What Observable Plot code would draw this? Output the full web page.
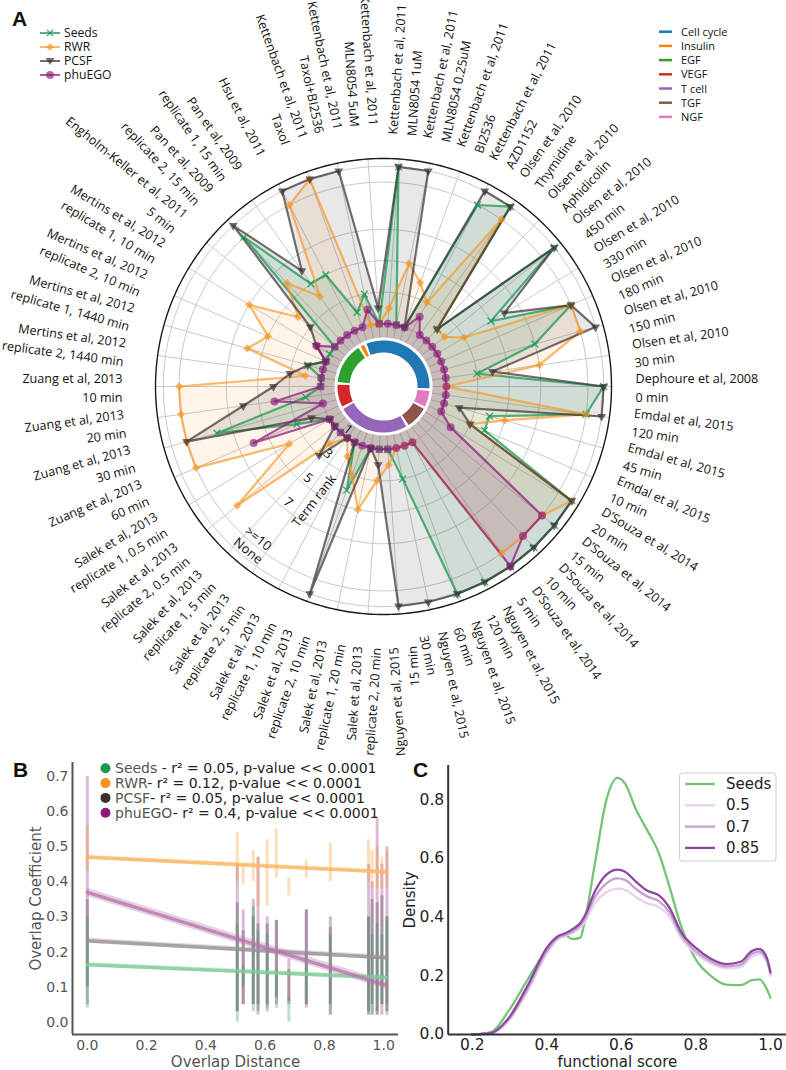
<!DOCTYPE html>
<html><head><meta charset="utf-8">
<script src="https://cdn.jsdelivr.net/npm/d3@7"></script>
<script src="https://cdn.jsdelivr.net/npm/@observablehq/plot@0.6"></script>
<style>
body{margin:0;background:#fff;}
#fig{position:relative;width:786px;height:1070px;overflow:hidden;background:#fff;}
</style></head><body><div id="fig"></div>
<script>
// ---------------- DATA ----------------
const studies = [
"Dephoure et al, 2008\n0 min","Emdal et al, 2015\n120 min","Emdal et al, 2015\n45 min","Emdal et al, 2015\n10 min",
"D’Souza et al, 2014\n20 min","D’Souza et al, 2014\n15 min","D’Souza et al, 2014\n10 min","D’Souza et al, 2014\n5 min",
"Nguyen et al, 2015\n120 min","Nguyen et al, 2015\n60 min","Nguyen et al, 2015\n30 min","Nguyen et al, 2015\n15 min",
"Salek et al, 2013\nreplicate 2, 20 min","Salek et al, 2013\nreplicate 1, 20 min","Salek et al, 2013\nreplicate 2, 10 min","Salek et al, 2013\nreplicate 1, 10 min",
"Salek et al, 2013\nreplicate 2, 5 min","Salek et al, 2013\nreplicate 1, 5 min","Salek et al, 2013\nreplicate 2, 0.5 min","Salek et al, 2013\nreplicate 1, 0.5 min",
"Zuang et al, 2013\n60 min","Zuang et al, 2013\n30 min","Zuang et al, 2013\n20 min","Zuang et al, 2013\n10 min",
"Mertins et al, 2012\nreplicate 2, 1440 min","Mertins et al, 2012\nreplicate 1, 1440 min","Mertins et al, 2012\nreplicate 2, 10 min","Mertins et al, 2012\nreplicate 1, 10 min",
"Engholm-Keller et al, 2011\n5 min","Pan et al, 2009\nreplicate 2, 15 min","Pan et al, 2009\nreplicate 1, 15 min","Hsu et al, 2011",
"Kettenbach et al, 2011\nTaxol","Kettenbach et al, 2011\nTaxol+BI2536","Kettenbach et al, 2011\nMLN8054 5uM","Kettenbach et al, 2011\nMLN8054 1uM",
"Kettenbach et al, 2011\nMLN8054 0.25uM","Kettenbach et al, 2011\nBI2536","Kettenbach et al, 2011\nAZD1152",
"Olsen et al, 2010\nThymidine","Olsen et al, 2010\nAphidicolin","Olsen et al, 2010\n450 min","Olsen et al, 2010\n330 min",
"Olsen et al, 2010\n180 min","Olsen et al, 2010\n150 min","Olsen et al, 2010\n30 min"
];
const studyCategory = [
"Cell cycle","NGF","NGF","NGF","TGF","TGF","TGF","TGF",
"T cell","T cell","T cell","T cell","T cell","T cell","T cell","T cell","T cell","T cell","T cell","T cell",
"VEGF","VEGF","VEGF","VEGF","EGF","EGF","EGF","EGF","EGF","EGF","EGF","Insulin",
"Cell cycle","Cell cycle","Cell cycle","Cell cycle","Cell cycle","Cell cycle","Cell cycle",
"Cell cycle","Cell cycle","Cell cycle","Cell cycle","Cell cycle","Cell cycle","Cell cycle"
];
// term rank per study (11 = None, 10 = >=10)
const seedsRank  = [11,10,4,4,11,11,11,11,11,11,3,1,1,1,4,1,1,1,1,1,3,8,2,1,1,2,1,1,1,10,5,5,2,3,1,11,1,1,10,11,2,11,5,10,7,3];
const rwrRank    = [1,10,5,3,11,10,10,10,1,1,1,2,3,5,3,2,1,2,9,4,10,10,10,10,2,6,5,7,4,6,4,10,11,1,1,2,5,4,3,10,2,2,3,10,10,7];
const pcsfRank   = [11,11,2,3,11,11,11,11,11,11,11,11,2,1,11,1,1,3,1,1,2,10,6,4,3,2,1,2,3,11,6,11,11,11,2,11,11,1,11,11,2,11,6,10,11,4];
const phuegoRank = [1,1,1,1,2,10,10,11,1,1,1,1,1,1,1,1,1,1,1,1,6,1,4,1,1,1,1,2,1,1,1,1,1,2,1,1,1,1,2,1,1,1,1,1,1,1];

const methods = ["Seeds","RWR","PCSF","phuEGO"];
const methodColors = ["#1a9850","#f7931e","#3b2f34","#8b1a7a"];
const rankTicks = [1,3,5,7,10,11];
const rankTickLabels = ["1","3","5","7",">=10","None"];
const categories = ["Cell cycle","Insulin","EGF","VEGF","T cell","TGF","NGF"];
const categoryColors = ["#1f77b4","#ff7f0e","#2ca02c","#d62728","#9467bd","#8c564b","#e377c2"];

// Panel B: overlap columns (x), per-method y extents
const colX = [0,0.506,0.526,0.56,0.576,0.607,0.638,0.68,0.739,0.82,0.949,0.961,0.978,0.994,1.011];
const seedsLo  = [0.04,0.00,0.10,0.03,0.03,0.04,0.04,0.00,0.05,0.02,0.02,0.02,0.02,0.05,0.05];
const seedsHi  = [0.30,0.28,0.16,0.33,0.26,0.25,0.15,0.07,0.20,0.25,0.30,0.25,0.28,0.25,0.30];
const rwrLo    = [0.43,0.40,0.39,0.40,0.33,0.33,0.41,0.36,0.41,0.40,0.40,0.38,0.38,0.38,0.38];
const rwrHi    = [0.56,0.54,0.45,0.49,0.47,0.52,0.55,0.41,0.46,0.51,0.52,0.49,0.50,0.47,0.49];
const pcsfLo   = [0.10,0.03,0.05,0.05,0.05,0.05,0.07,0.05,0.05,0.05,0.03,0.05,0.03,0.05,0.03];
const pcsfHi   = [0.35,0.34,0.26,0.30,0.28,0.28,0.29,0.15,0.32,0.30,0.30,0.35,0.34,0.36,0.30];
const phuLo    = [0.05,0.03,0.05,0.05,0.02,0.03,0.05,0.06,0.04,0.02,0.02,0.02,0.02,0.02,0.02];
const phuHi    = [0.70,0.45,0.32,0.35,0.47,0.30,0.29,0.18,0.32,0.27,0.45,0.40,0.58,0.45,0.50];
const regAt0 = [0.164,0.47,0.232,0.37];
const regAt1 = [0.127,0.428,0.184,0.105];
const ciHalf = [0.006,0.006,0.007,0.012];
const r2Values = ["0.05","0.12","0.05","0.4"];
const bTicksX = [0,0.2,0.4,0.6,0.8,1.0];
const bTicksY = [0,0.1,0.2,0.3,0.4,0.5,0.6,0.7];

// Panel C: density of functional score
const fsX = [0.2,0.25,0.3,0.35,0.4,0.43,0.45,0.47,0.49,0.5,0.53,0.56,0.59,0.61,0.64,0.67,0.7,0.73,0.76,0.8,0.84,0.88,0.92,0.95,0.97,0.99,1.0];
const densSeeds = [0,0.008,0.085,0.19,0.29,0.333,0.337,0.325,0.33,0.375,0.59,0.8,0.875,0.855,0.765,0.695,0.62,0.5,0.37,0.255,0.2,0.17,0.168,0.185,0.188,0.155,0.125];
const dens050 = [0,0.003,0.05,0.15,0.275,0.325,0.336,0.347,0.365,0.38,0.45,0.485,0.497,0.493,0.468,0.447,0.435,0.4,0.33,0.275,0.243,0.226,0.23,0.265,0.275,0.248,0.2];
const dens070 = [0,0.004,0.055,0.16,0.285,0.33,0.34,0.352,0.372,0.39,0.47,0.515,0.532,0.527,0.495,0.47,0.455,0.415,0.34,0.283,0.25,0.232,0.238,0.275,0.283,0.255,0.207];
const dens085 = [0,0.005,0.06,0.17,0.295,0.335,0.345,0.36,0.38,0.4,0.49,0.545,0.562,0.555,0.52,0.49,0.475,0.43,0.35,0.295,0.258,0.24,0.248,0.285,0.292,0.262,0.213];
const densNames = ["Seeds","0.5","0.7","0.85"];
const densColors = ["#74c476","#e6d3e9","#c3a2d0","#8e47a0"];
const cTicksX = [0.2,0.4,0.6,0.8,1.0];
const cTicksY = [0,0.2,0.4,0.6,0.8];

// ---------------- PANEL A: radar ----------------
const fig = document.getElementById("fig");
const N = studies.length;
const R0 = 3;              // radial axis starts at rank -3
const RMAX = 11.5;
const cx = 383, cy = 386, HA = 760;
const K = 228 / (RMAX + R0); // px per rank unit
const ang = i => i * 2 * Math.PI / N;
const px = (i, r) => (r + R0) * Math.cos(ang(i));
const py = (i, r) => -(r + R0) * Math.sin(ang(i));

const rankSeries = [seedsRank, rwrRank, pcsfRank, phuegoRank];
const seriesPts = rankSeries.map(arr => {
  const pts = arr.map((r, i) => ({i, r, x: px(i, r), y: py(i, r)}));
  return pts.concat([pts[0]]);
});

const ringPts = [];
rankTicks.forEach(t => d3.range(0, 361, 2).forEach(d => {
  const a = d * Math.PI / 180;
  ringPts.push({t, x: (t + R0) * Math.cos(a), y: -(t + R0) * Math.sin(a)});
}));
const outerPts = d3.range(0, 361, 1).map(d => {
  const a = d * Math.PI / 180;
  return {x: (RMAX + R0) * Math.cos(a), y: -(RMAX + R0) * Math.sin(a)};
});

// donut runs (circular contiguous category runs)
const donutR = 40 / K;
const runs = [];
let start = studyCategory.findIndex((c, i) => c !== studyCategory[(i - 1 + N) % N]);
for (let k = 0; k < N; ) {
  const s = (start + k) % N; const c = studyCategory[s]; let len = 0;
  while (len < N - k && studyCategory[(s + len) % N] === c) len++;
  runs.push({c, s, len}); k += len;
}
const donutPts = [];
runs.forEach((run, j) => {
  const gap = 1.6 * Math.PI / 180;
  const a0 = (run.s - 0.5) * 2 * Math.PI / N + gap;
  const a1 = (run.s + run.len - 0.5) * 2 * Math.PI / N - gap;
  d3.range(0, 41).forEach(q => {
    const a = a0 + (a1 - a0) * q / 40;
    donutPts.push({run: j, c: run.c, x: donutR * Math.cos(a), y: -donutR * Math.sin(a)});
  });
});

const labelRows = studies.map((t, i) => {
  const deg = i * 360 / N;
  const left = deg > 80 && deg < 270;
  const rpx = left ? 261 : 252;
  const rot = left ? deg - 180 : (deg > 270 ? deg - 360 : deg);
  const a = deg * Math.PI / 180;
  return {t, left, rot, x: rpx / K * Math.cos(a), y: -rpx / K * Math.sin(a)};
});

const tickAng = 129.5 * Math.PI / 180;
const tickRows = rankTicks.map((t, k) => ({
  t: rankTickLabels[k],
  x: (t + R0 - 0.45) * Math.cos(tickAng),
  y: -(t + R0 - 0.45) * Math.sin(tickAng)
}));
const termAng = 121.2 * Math.PI / 180;
const termRow = [{t: "Term rank", x: 8.5 * Math.cos(termAng), y: -8.5 * Math.sin(termAng)}];

const downTriangle = {draw(ctx, size) {
  const s = Math.sqrt(size * 4 / Math.sqrt(3)), h = s * Math.sqrt(3) / 2;
  ctx.moveTo(0, h * 2 / 3); ctx.lineTo(-s / 2, -h / 3); ctx.lineTo(s / 2, -h / 3); ctx.closePath();
}};
const squareDiamond = {draw(ctx, size) {
  const d = Math.sqrt(size / 2);
  ctx.moveTo(0, -d); ctx.lineTo(d, 0); ctx.lineTo(0, d); ctx.lineTo(-d, 0); ctx.closePath();
}};

const fA = "'Open Sans', sans-serif";
const lineOpacity = [0.75, 0.65, 0.7, 0.72];
const fillOpacity = [0.12, 0.1, 0.11, 0.12];
const markerMarks = [
  Plot.dot(seriesPts[0].slice(0, N), {x: "x", y: "y", symbol: "times", r: 3.2, stroke: methodColors[0], strokeOpacity: 0.8, strokeWidth: 1.4, fill: "none"}),
  Plot.dot(seriesPts[1].slice(0, N), {x: "x", y: "y", symbol: squareDiamond, r: 3.3, fill: methodColors[1], fillOpacity: 0.65, stroke: "none"}),
  Plot.dot(seriesPts[2].slice(0, N), {x: "x", y: "y", symbol: downTriangle, r: 3.3, fill: methodColors[2], fillOpacity: 0.7, stroke: "none"}),
  Plot.dot(seriesPts[3].slice(0, N), {x: "x", y: "y", r: 4, fill: methodColors[3], fillOpacity: 0.65, stroke: "none"})
];

const radarMarks = [
  Plot.link(d3.range(N), {x1: () => 0, y1: () => 0, x2: i => px(i, RMAX), y2: i => py(i, RMAX), stroke: "#c9c9c9", strokeWidth: 1}),
  Plot.line(ringPts, {x: "x", y: "y", z: "t", stroke: "#c9c9c9", strokeWidth: 1}),
  Plot.line(outerPts, {x: "x", y: "y", stroke: "#1a1a1a", strokeWidth: 1.4}),
  ...seriesPts.map((pts, k) => Plot.line(pts, {x: "x", y: "y", fill: methodColors[k], fillOpacity: fillOpacity[k], stroke: "none"})),
  ...seriesPts.map((pts, k) => Plot.line(pts, {x: "x", y: "y", stroke: methodColors[k], strokeOpacity: lineOpacity[k], strokeWidth: 2.2})),
  ...markerMarks,
  Plot.dot([{x: 0, y: 0}], {x: "x", y: "y", r: 49, fill: "white", stroke: "none"}),
  ...categories.map((c, k) => Plot.line(donutPts.filter(d => d.c === c), {x: "x", y: "y", z: "run", stroke: categoryColors[k], strokeWidth: 12, strokeLinecap: "butt"})),
  Plot.text(tickRows, {x: "x", y: "y", text: "t", rotate: 39, fontSize: 13, fontFamily: fA, fill: "#111"}),
  Plot.text(termRow, {x: "x", y: "y", text: "t", rotate: -52, fontSize: 13, fontFamily: fA, fill: "#111"}),
  Plot.text(labelRows.filter(d => !d.left), {x: "x", y: "y", text: "t", rotate: "rot", textAnchor: "start", lineAnchor: "middle", lineHeight: 1.5, fontSize: 12.6, fontFamily: fA, fill: "#111"}),
  Plot.text(labelRows.filter(d => d.left), {x: "x", y: "y", text: "t", rotate: "rot", textAnchor: "end", lineAnchor: "middle", lineHeight: 1.5, fontSize: 12.6, fontFamily: fA, fill: "#111"})
];

const radar = Plot.plot({
  width: 786, height: HA, margin: 0,
  x: {domain: [-cx / K, (786 - cx) / K], axis: null},
  y: {domain: [-(HA - cy) / K, cy / K], axis: null},
  style: {background: "transparent", overflow: "visible", color: "#111"},
  marks: radarMarks
});
radar.style.left = "0px"; radar.style.top = "0px"; radar.style.position = "absolute";
fig.appendChild(radar);

// ---------------- PANEL B ----------------
const fB = "'DejaVu Sans', sans-serif";
const fmt1 = d3.format(".1f");
const colRows = (lo, hi) => colX.map((x, j) => ({x, lo: lo[j], hi: hi[j]}));
const scatterSets = [[phuLo, phuHi, 3], [pcsfLo, pcsfHi, 2], [seedsLo, seedsHi, 0], [rwrLo, rwrHi, 1]];
const regRows = methods.map((m, k) => [{x: 0, y: regAt0[k], k}, {x: 1.01, y: regAt1[k], k}]);
const regLineColors = ["#7fcc98", "#f9b865", "#9c9195", "#b777ab"];
const bX0 = -0.05, bY0 = -0.035;
const panelB = Plot.plot({
  width: 400, height: 330, marginLeft: 72, marginRight: 2, marginTop: 22, marginBottom: 36,
  x: {domain: [bX0, 1.05], axis: null}, y: {domain: [bY0, 0.74], axis: null},
  style: {background: "transparent", color: "#555"},
  marks: [
    ...scatterSets.map(([lo, hi, k]) => Plot.ruleX(colRows(lo, hi), {x: "x", y1: "lo", y2: "hi", stroke: methodColors[k], strokeWidth: 3, strokeOpacity: 0.3})),
    ...regRows.map((rows, k) => Plot.areaY(rows, {x: "x", y1: d => d.y - ciHalf[k], y2: d => d.y + ciHalf[k], fill: regLineColors[k], fillOpacity: 0.35})),
    ...regRows.map((rows, k) => Plot.line(rows, {x: "x", y: "y", stroke: regLineColors[k], strokeWidth: 3.5, strokeOpacity: 0.8})),
    Plot.ruleX([bX0], {stroke: "#555", strokeWidth: 2}),
    Plot.ruleY([bY0], {stroke: "#555", strokeWidth: 2}),
    Plot.text(bTicksX, {x: d => d, text: d => fmt1(d), frameAnchor: "bottom", textAnchor: "middle", lineAnchor: "middle", dy: 11, fontSize: 14, fontFamily: fB, fill: "#555"}),
    Plot.text(bTicksY, {y: d => d, text: d => fmt1(d), frameAnchor: "left", textAnchor: "end", lineAnchor: "middle", dx: -4, fontSize: 14, fontFamily: fB, fill: "#555"}),
    Plot.text(["Overlap Coefficient"], {text: d => d, frameAnchor: "left", textAnchor: "middle", lineAnchor: "middle", dx: -36, rotate: -90, fontSize: 15, fontFamily: fB, fill: "#555"}),
    Plot.text(["Overlap Distance"], {text: d => d, frameAnchor: "bottom", textAnchor: "middle", lineAnchor: "middle", dy: 28, fontSize: 15, fontFamily: fB, fill: "#555"})
  ]
});
panelB.style.position = "absolute"; panelB.style.left = "0px"; panelB.style.top = "740px";
fig.appendChild(panelB);

// ---------------- PANEL C ----------------
const densSets = [densSeeds, dens050, dens070, dens085];
const densRows = densSets.map(arr => fsX.map((x, j) => ({x, y: arr[j]})));
const cX0 = 0.1356;
const panelC = Plot.plot({
  width: 386, height: 330, marginLeft: 47.7, marginRight: 0, marginTop: 25, marginBottom: 36,
  x: {domain: [cX0, 1.043], axis: null}, y: {domain: [0, 0.917], axis: null},
  style: {background: "transparent", color: "#222"},
  marks: [
    ...densRows.map((rows, k) => Plot.line(rows, {x: "x", y: "y", curve: "monotone-x", stroke: densColors[k], strokeWidth: 2.3})),
    Plot.ruleX([cX0], {stroke: "#333", strokeWidth: 2}),
    Plot.ruleY([0], {stroke: "#333", strokeWidth: 2}),
    Plot.text(cTicksX, {x: d => d, text: d => fmt1(d), frameAnchor: "bottom", textAnchor: "middle", lineAnchor: "middle", dy: 11, fontSize: 15.5, fontFamily: fB, fill: "#222"}),
    Plot.text(cTicksY, {y: d => d, text: d => fmt1(d), frameAnchor: "left", textAnchor: "end", lineAnchor: "middle", dx: -4, fontSize: 15.5, fontFamily: fB, fill: "#222"}),
    Plot.text(["Density"], {text: d => d, frameAnchor: "left", textAnchor: "middle", lineAnchor: "middle", dx: -38, rotate: -90, fontSize: 15, fontFamily: fB, fill: "#222"}),
    Plot.text(["functional score"], {text: d => d, frameAnchor: "bottom", textAnchor: "middle", lineAnchor: "middle", dy: 28, fontSize: 15, fontFamily: fB, fill: "#222"})
  ]
});
panelC.style.position = "absolute"; panelC.style.left = "400px"; panelC.style.top = "740px";
fig.appendChild(panelC);

// ---------------- LEGENDS & PANEL LETTERS (overlay) ----------------
const NS = "http://www.w3.org/2000/svg";
const ov = document.createElementNS(NS, "svg");
ov.setAttribute("width", 786); ov.setAttribute("height", 1070);
ov.style.position = "absolute"; ov.style.left = "0px"; ov.style.top = "0px"; ov.style.pointerEvents = "none";
function el(tag, attrs, text) {
  const e = document.createElementNS(NS, tag);
  for (const k in attrs) e.setAttribute(k, attrs[k]);
  if (text != null) e.textContent = text;
  ov.appendChild(e); return e;
}
[["A", 12, 26], ["B", 13, 777], ["C", 413, 777]].forEach(([t, x, y]) =>
  el("text", {x, y, "font-family": "'Liberation Sans', Arial, sans-serif", "font-weight": "bold", "font-size": 21, fill: "#111"}, t));

// A: method legend
methods.forEach((m, k) => {
  const y = 33 + k * 14;
  el("line", {x1: 40, x2: 60, y1: y, y2: y, stroke: methodColors[k], "stroke-opacity": lineOpacity[k], "stroke-width": 2});
  if (k === 0) {
    el("path", {d: `M47,${y-3}L53,${y+3}M47,${y+3}L53,${y-3}`, stroke: methodColors[0], "stroke-opacity": 0.8, "stroke-width": 1.4});
  } else if (k === 1) {
    el("path", {d: `M50,${y-4}L54,${y}L50,${y+4}L46,${y}Z`, fill: methodColors[1], "fill-opacity": 0.65});
  } else if (k === 2) {
    el("path", {d: `M50,${y+4}L45.5,${y-3}L54.5,${y-3}Z`, fill: methodColors[2], "fill-opacity": 0.7});
  } else {
    el("circle", {cx: 50, cy: y, r: 4, fill: methodColors[3], "fill-opacity": 0.65});
  }
  el("text", {x: 64, y: y + 4.2, "font-family": fA, "font-size": 12.2, fill: "#111"}, m);
});
// A: category legend
categories.forEach((c, k) => {
  const y = 31.7 + k * 14.2;
  el("line", {x1: 659, x2: 672, y1: y, y2: y, stroke: categoryColors[k], "stroke-width": 2.5});
  el("text", {x: 681, y: y + 4, "font-family": fA, "font-size": 11, fill: "#111"}, c);
});
// B: legend
methods.forEach((m, k) => {
  const y = 768.3 + k * 14.8;
  el("circle", {cx: 105.5, cy: y, r: 5, fill: methodColors[k]});
  const t = el("text", {x: 115, y: y + 4.8, "font-family": fB, "font-size": 14, fill: "#222"});
  const s1 = document.createElementNS(NS, "tspan"); s1.setAttribute("fill", "#555"); s1.textContent = m + (k === 0 ? " " : "");
  const s2 = document.createElementNS(NS, "tspan"); s2.textContent = `- r² = ${r2Values[k]}, p-value << 0.0001`;
  t.appendChild(s1); t.appendChild(s2);
});
// C: legend
el("rect", {x: 679.5, y: 773, width: 96.5, height: 88, rx: 3, fill: "white", "fill-opacity": 0.85, stroke: "#cccccc", "stroke-width": 1});
densNames.forEach((n, k) => {
  const y = 784 + k * 21.3;
  el("line", {x1: 685, x2: 715, y1: y, y2: y, stroke: densColors[k], "stroke-width": 2.3});
  el("text", {x: 726, y: y + 5, "font-family": fB, "font-size": 15, fill: "#222"}, n);
});
fig.appendChild(ov);
</script></body></html>
